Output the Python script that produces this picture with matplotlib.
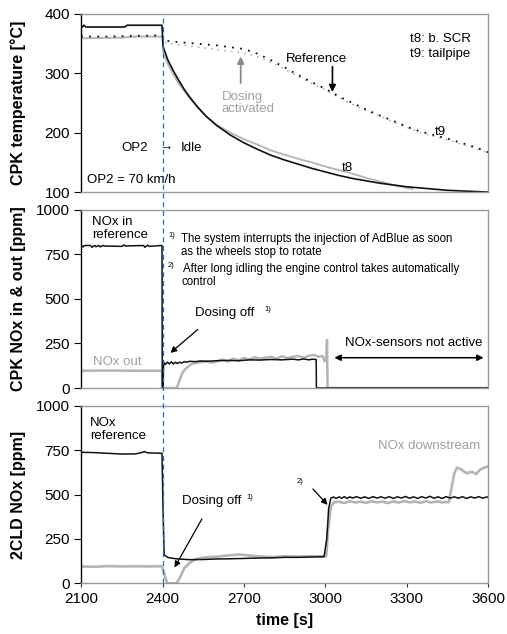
import matplotlib
matplotlib.use("Agg")
import matplotlib.pyplot as plt
from matplotlib.transforms import blended_transform_factory

plt.rcParams['font.family'] = ['Liberation Sans', 'DejaVu Sans']

# ---------------- data ----------------
x_ticks = [2100, 2400, 2700, 3000, 3300, 3600]
temp_ticks = [100, 200, 300, 400]
nox_ticks = [0, 250, 500, 750, 1000]
event_time = 2400  # switch OP2 -> Idle

# top panel: CPK temperature
t8_time = [2100, 2105, 2110, 2118, 2125, 2260, 2270, 2398, 2402, 2420,
           2440, 2460, 2480, 2500, 2530, 2560, 2600, 2650, 2700, 2750,
           2800, 2850, 2900, 2950, 3000, 3050, 3100, 3150, 3200, 3250,
           3300, 3350, 3400, 3450, 3500, 3550, 3600]
t8_ref = [378, 378, 381, 378, 378, 378, 381, 381, 345, 322,
          304, 288, 273, 260, 243, 228, 212, 196, 183, 172,
          162, 154, 147, 140, 134, 128, 123, 119, 115, 112,
          109, 107, 105, 103, 102, 101, 100]

t8g_time = [2100, 2250, 2300, 2398, 2403, 2415, 2440, 2460, 2480, 2500,
            2530, 2560, 2600, 2650, 2700, 2750, 2800, 2850, 2900, 2950,
            3000, 3050, 3100, 3150, 3200, 3250, 3300, 3320]
t8_dosing = [359, 360, 362, 362, 335, 320, 298, 283, 270, 258,
             242, 228, 213, 200, 189, 180, 170, 163, 156, 150,
             143, 137, 131, 124, 118, 112, 107, 105]

t9_time = [2100, 2200, 2300, 2398, 2410, 2450, 2500, 2550, 2600, 2650,
           2700, 2750, 2800, 2850, 2900, 2950, 3000, 3050, 3100, 3150,
           3200, 3250, 3300, 3350, 3400, 3450, 3500, 3550, 3600]
t9_ref = [362, 362, 363, 364, 355, 353, 351, 349, 347, 344,
          341, 333, 322, 310, 297, 285, 274, 261, 250, 239,
          229, 220, 210, 202, 196, 190, 183, 176, 167]
t9_dosing = [359, 360, 361, 361, 352, 349, 346, 343, 340, 337,
             334, 328, 318, 307, 295, 283, 272, 259, 248, 237,
             228, 218, 209, 200, 194, 188, 181, 174, 166]

# middle panel: CPK NOx in & out
nox_in_time = [2100, 2108, 2112, 2135, 2140, 2150, 2155, 2165, 2170, 2180,
               2185, 2250, 2258, 2262, 2330, 2335, 2345, 2350, 2398, 2399,
               2402, 2404, 2410, 2418, 2425, 2432, 2440, 2448, 2455, 2462,
               2470, 2480, 2490, 2500, 2520, 2540, 2560, 2600, 2640, 2680,
               2720, 2760, 2800, 2840, 2880, 2900, 2920, 2940, 2950, 2966,
               2967, 3600]
nox_in = [800, 792, 800, 800, 790, 800, 793, 800, 792, 800,
          797, 795, 803, 797, 800, 790, 802, 795, 800, 0,
          0, 145, 132, 145, 135, 147, 135, 145, 137, 145,
          140, 148, 145, 150, 148, 152, 150, 153, 155, 153,
          158, 157, 160, 158, 162, 158, 163, 158, 162, 160,
          0, 0]

nox_out_time = [2100, 2200, 2300, 2398, 2400, 2452, 2462, 2470, 2480, 2490,
                2507, 2520, 2540, 2560, 2580, 2600, 2620, 2640, 2660, 2680,
                2700, 2720, 2740, 2760, 2780, 2800, 2820, 2840, 2860, 2880,
                2900, 2920, 2940, 2960, 2975, 2990, 2997, 3003, 3006, 3008,
                3010, 3600]
nox_out = [97, 98, 97, 97, 0, 0, 40, 75, 100, 115,
           135, 140, 145, 150, 142, 150, 160, 148, 165, 155,
           168, 160, 172, 165, 170, 175, 165, 178, 168, 175,
           180, 170, 182, 185, 175, 180, 150, 160, 270, 0,
           0, 0]

# bottom panel: 2CLD NOx
cld_ref_time = [2100, 2150, 2200, 2250, 2300, 2320, 2332, 2345, 2398, 2402,
                2406, 2420, 2450, 2500, 2550, 2600, 2650, 2700, 2750, 2800,
                2850, 2900, 2950, 2995, 3005, 3012, 3020, 3030, 3040, 3050,
                3060, 3070, 3080, 3090, 3100, 3115, 3130, 3145, 3160, 3175,
                3190, 3205, 3220, 3235, 3250, 3265, 3280, 3295, 3310, 3325,
                3340, 3355, 3370, 3385, 3400, 3415, 3430, 3445, 3460, 3475,
                3490, 3505, 3520, 3535, 3550, 3565, 3580, 3595, 3600]
cld_ref = [738, 736, 732, 728, 729, 735, 742, 735, 732, 400,
           160, 145, 138, 133, 134, 137, 138, 140, 142, 143,
           146, 146, 148, 150, 250, 420, 480, 486, 478, 487,
           479, 488, 478, 487, 480, 488, 479, 487, 478, 488,
           480, 487, 479, 488, 478, 487, 480, 489, 479, 487,
           478, 488, 480, 490, 479, 487, 478, 488, 480, 487,
           479, 488, 478, 487, 480, 488, 479, 487, 483]

cld_ds_time = [2100, 2150, 2200, 2250, 2300, 2350, 2398, 2405, 2415, 2420,
               2452, 2465, 2480, 2500, 2520, 2550, 2580, 2600, 2630, 2650,
               2680, 2700, 2720, 2750, 2800, 2850, 2900, 2950, 2990, 3003,
               3010, 3020, 3030, 3050, 3070, 3090, 3110, 3130, 3150, 3170,
               3190, 3210, 3230, 3250, 3270, 3290, 3310, 3330, 3350, 3370,
               3390, 3410, 3430, 3455, 3465, 3475, 3485, 3500, 3520, 3540,
               3555, 3570, 3585, 3600]
cld_ds = [95, 93, 97, 95, 96, 95, 96, 60, 10, 0,
          0, 35, 85, 115, 135, 145, 148, 150, 155, 158,
          162, 160, 156, 152, 148, 152, 150, 153, 150, 152,
          300, 430, 455, 460, 452, 462, 455, 460, 453, 462,
          456, 460, 452, 461, 455, 463, 456, 460, 454, 462,
          455, 461, 456, 458, 540, 620, 652, 642, 620, 628,
          615, 640, 652, 658]

# ---------------- style ----------------
BLACK = '#111111'
GRAY = '#b4b4b4'
GRAYTXT = '#a0a0a0'
SPINE_GRAY = '#9a9a9a'
BLUE = '#2f66c4'
FS = 9.5
TICK_FS = 11
YLAB_FS = 11.5

fig = plt.figure(figsize=(5.07, 6.34), dpi=100)
left, width = 0.160, 0.803
ax1 = fig.add_axes([left, 0.697, width, 0.281])
ax2 = fig.add_axes([left, 0.388, width, 0.281])
ax3 = fig.add_axes([left, 0.080, width, 0.280])

for ax in (ax1, ax2, ax3):
    ax.set_xlim(x_ticks[0], x_ticks[-1])
    ax.set_xticks(x_ticks)
    for s in ('top', 'right', 'bottom'):
        ax.spines[s].set_color(SPINE_GRAY)
        ax.spines[s].set_linewidth(1.0)
    ax.spines['left'].set_color('#000000')
    ax.spines['left'].set_linewidth(1.0)
    ax.tick_params(axis='y', direction='out', length=5, width=0.8,
                   labelsize=TICK_FS, pad=3, color='#000000')
    ax.tick_params(axis='x', direction='out', length=3, width=0.8,
                   labelsize=TICK_FS, color='#333333')
for ax in (ax1, ax2):
    ax.tick_params(axis='x', length=0, labelbottom=False)

# top
ax1.set_ylim(100, 400)
ax1.set_yticks(temp_ticks)
ax1.plot(t8g_time, t8_dosing, color=GRAY, lw=1.3)
ax1.plot(t9_time, t9_dosing, color=GRAY, lw=1.2, ls=(0, (1, 3)))
ax1.plot(t8_time, t8_ref, color=BLACK, lw=1.2)
ax1.plot(t9_time, t9_ref, color=BLACK, lw=1.3, ls=(0, (1, 3.5)))
ax1.set_ylabel('CPK temperature [°C]', fontsize=YLAB_FS, fontweight='bold')

ax1.text(2297, 175, 'OP2', fontsize=FS, ha='center', va='center')
ax1.text(2414, 175, '→', fontsize=FS, ha='center', va='center')
ax1.text(2508, 175, 'Idle', fontsize=FS, ha='center', va='center')
ax1.text(2122, 121, 'OP2 = 70 km/h', fontsize=FS, ha='left', va='center')
ax1.text(2618, 250, 'Dosing\nactivated', fontsize=FS, color=GRAYTXT,
         ha='left', va='center', linespacing=1.1)
ax1.annotate('', xy=(2688, 333), xytext=(2688, 279),
             arrowprops=dict(arrowstyle='-|>', color='#8a8a8a', lw=1.3,
                             mutation_scale=10))
ax1.text(2968, 324, 'Reference', fontsize=FS, ha='center', va='center')
ax1.annotate('', xy=(3026, 264), xytext=(3026, 316),
             arrowprops=dict(arrowstyle='-|>', color='black', lw=1.2,
                             mutation_scale=10))
ax1.text(3310, 345, 't8: b. SCR\nt9: tailpipe', fontsize=FS, ha='left',
         va='center', linespacing=1.3)
ax1.text(3424, 202, 't9', fontsize=FS, ha='center', va='center')
ax1.text(3082, 141, 't8', fontsize=FS, ha='center', va='center')

# middle
ax2.set_ylim(0, 1000)
ax2.set_yticks(nox_ticks)
ax2.plot(nox_out_time, nox_out, color=GRAY, lw=1.8)
ax2.plot(nox_in_time, nox_in, color=BLACK, lw=1.1)
ax2.set_ylabel('CPK NOx in & out [ppm]', fontsize=YLAB_FS, fontweight='bold')

ax2.text(2140, 894, 'NOx in\nreference', fontsize=FS, ha='left', va='center',
         linespacing=1.1)
ax2.text(2420, 857, '1)', fontsize=5.5, ha='left', va='center')
ax2.text(2468, 838, 'The system interrupts the injection of AdBlue as soon',
         fontsize=8.3, ha='left', va='center')
ax2.text(2468, 763, 'as the wheels stop to rotate', fontsize=8.3,
         ha='left', va='center')
ax2.text(2420, 688, '2)', fontsize=5.5, ha='left', va='center')
ax2.text(2475, 670, 'After long idling the engine control takes automatically',
         fontsize=8.3, ha='left', va='center')
ax2.text(2468, 594, 'control', fontsize=8.3, ha='left', va='center')

ax2.text(2519, 422, 'Dosing off', fontsize=FS, ha='left', va='center')
ax2.text(2775, 440, '1)', fontsize=5.5, ha='left', va='center')
ax2.annotate('', xy=(2421, 187), xytext=(2537, 338),
             arrowprops=dict(arrowstyle='-|>', color='black', lw=0.9,
                             mutation_scale=9))
ax2.text(2144, 148, 'NOx out', fontsize=FS, color=GRAYTXT, ha='left', va='center')
ax2.text(3324, 253, 'NOx-sensors not active', fontsize=FS, ha='center', va='center')
ax2.annotate('', xy=(3023, 170), xytext=(3593, 170),
             arrowprops=dict(arrowstyle='<|-|>', color='black', lw=1.1,
                             mutation_scale=9))

# bottom
ax3.set_ylim(0, 1000)
ax3.set_yticks(nox_ticks)
ax3.plot(cld_ds_time, cld_ds, color=GRAY, lw=1.9)
ax3.plot(cld_ref_time, cld_ref, color=BLACK, lw=1.1)
ax3.set_ylabel('2CLD NOx [ppm]', fontsize=YLAB_FS, fontweight='bold')
ax3.set_xlabel('time [s]', fontsize=11.5, fontweight='bold', labelpad=5)

ax3.text(2133, 864, 'NOx\nreference', fontsize=FS, ha='left', va='center',
         linespacing=1.1)
ax3.text(2470, 461, 'Dosing off', fontsize=FS, ha='left', va='center')
ax3.text(2710, 482, '1)', fontsize=5.5, ha='left', va='center')
ax3.annotate('', xy=(2439, 75), xytext=(2550, 376),
             arrowprops=dict(arrowstyle='-|>', color='black', lw=0.9,
                             mutation_scale=9))
ax3.text(2908, 574, '2)', fontsize=5.5, ha='center', va='center')
ax3.annotate('', xy=(3015, 430), xytext=(2947, 543),
             arrowprops=dict(arrowstyle='-|>', color='black', lw=0.9,
                             mutation_scale=9))
ax3.text(3193, 772, 'NOx downstream', fontsize=FS, color=GRAYTXT,
         ha='left', va='center')

# y-labels at common horizontal position
for ax in (ax1, ax2, ax3):
    ax.yaxis.set_label_coords(-0.135, 0.5)

# dashed event line across all panels
trans = blended_transform_factory(ax3.transData, fig.transFigure)
ax3.plot([event_time, event_time], [0.080, 0.978], transform=trans,
         color=BLUE, lw=0.9, ls=(0, (4, 3)), clip_on=False, zorder=5)

fig.savefig('out.png', dpi=100)
